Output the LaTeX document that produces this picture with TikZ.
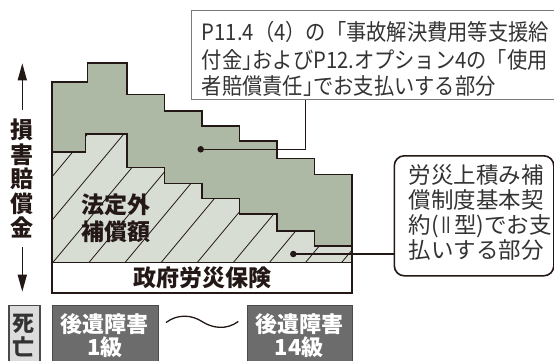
\documentclass[tikz,border=0pt]{standalone}
\usepackage{fontspec}
\usepackage{graphicx}
\setmainfont{Noto Sans CJK JP}
\newfontfamily\jp{Noto Sans CJK JP}
\newfontfamily\jpn[FakeStretch=0.9]{Noto Sans CJK JP}
\newcommand\hw[1]{{\addfontfeature{RawFeature=+halt}#1}}
\usetikzlibrary{arrows.meta}
\definecolor{grn}{HTML}{ADB9A5}
\definecolor{hat}{HTML}{D8DDD3}
\definecolor{ink}{HTML}{231815}
\definecolor{txt}{HTML}{333333}
\definecolor{dbox}{HTML}{6C6C6C}
\definecolor{dboxline}{HTML}{4A4A4A}
\definecolor{lbox}{HTML}{DCDCDC}
\definecolor{gline}{HTML}{7A7A7A}
\def\hatchpath{(52,262.3) -- (52,151.7) -- (85.5,151.7) -- (85.5,134) -- (127,134) -- (127,167.3) -- (164.5,167.3) -- (164.5,183.3) -- (202,183.3) -- (202,198.3) -- (239.5,198.3) -- (239.5,213.7) -- (277,213.7) -- (277,231) -- (314.5,231) -- (314.5,245.7) -- (352,245.7) -- (352,262.3) -- cycle}
\begin{document}
\begin{tikzpicture}[x=1pt,y=-1pt,
  outl/.style={draw=ink, line width=1.6pt, line join=miter},
  boldtxt/.style={font=\jp\bfseries\fontsize{23}{23}\selectfont, text=ink, inner sep=0pt, anchor=base},
  boxtxt/.style={font=\jp\bfseries\fontsize{22}{22}\selectfont, text=white, inner sep=0pt, anchor=base},
  callA/.style={font=\jpn\fontsize{22.5}{22.5}\selectfont, text=txt, inner sep=0pt, anchor=base west},
  callB/.style={font=\jp\fontsize{22.5}{22.5}\selectfont, text=txt, inner sep=0pt, anchor=base west},
  conn/.style={draw=ink, line width=1.3pt},
  dotst/.style={circle, fill=ink, inner sep=0pt, minimum size=6.5pt},
  axarr/.style={draw=ink, line width=1.5pt, -{Triangle[length=17pt,width=9pt]}},
  darkbox/.style={draw=dboxline, line width=1.2pt, fill=dbox, inner sep=0pt, anchor=north west, minimum height=62pt},
]
\useasboundingbox (0,0) rectangle (554,360);
\clip (0,0) rectangle (554,360);

% green area
\path[fill=grn, outl] (52,292.7) -- (52,81.7) -- (87.5,81.7) -- (87.5,62.7) -- (127,62.7) -- (127,94.3) -- (164.5,94.3) -- (164.5,111) -- (202,111) -- (202,125.7) -- (239.5,125.7) -- (239.5,141) -- (277,141) -- (277,158.3) -- (314.5,158.3) -- (314.5,174.3) -- (352,174.3) -- (352,292.7) -- cycle;

% hatched area
\path[fill=hat] \hatchpath;
\begin{scope}
  \clip \hatchpath;
  \foreach \k in {-6,...,12}
    \draw[ink, line width=0.8pt] ({53+36.1*\k},262.3) -- ({53+36.1*\k+180},46.3);
\end{scope}
\path[outl] \hatchpath;

% white band
\path[fill=white, outl] (52,262.3) rectangle (352,292.7);
\node[boldtxt] (band) at (202,286.7) {政府労災保険};

% hatched label
\node[boldtxt] (h1) at (116,213.7) {法定外};
\node[boldtxt] (h2) at (116,240.7) {補償額};

% callout 1
\node[draw=gline, line width=1.3pt, fill=white, minimum width=365pt, minimum height=89pt, anchor=north west, inner sep=0pt] (b1) at (191,10) {};
\node[callA] (t11) at (201.7,40.5) {P11.4（4）の「事故解決費用等支援給};
\node[callA] (t12) at (201.7,68) {付金\hw{」}およびP12.オプション4の「使用};
\node[callA] (t13) at (201.7,94.5) {者賠償責任\hw{」}でお支払いする部分};
\node[dotst] (d1) at (200.7,149.3) {};
\coordinate (k1) at (305.5,149.3);
\draw[conn] (d1.center) -- (k1) -- (k1 |- b1.south);

% callout 2
\node[draw=ink, line width=1.6pt, rounded corners=10pt, fill=white, minimum width=159.5pt, minimum height=120pt, anchor=north west, inner sep=0pt] (b2) at (393.5,155) {};
\node[callB] (t21) at (408.3,183.6) {労災上積み補};
\node[callB] (t22) at (408.3,208.6) {償制度基本契};
\node[callB] (t23) at (408.3,233.6) {約(\scalebox{0.7}[1]{Ⅱ}型)でお支};
\node[callB] (t24) at (408.3,258.6) {払いする部分};
\node[dotst] (d2) at (293.3,254) {};
\draw[conn] (d2.center) -- (d2.center -| b2.west);

% vertical axis
\node[boldtxt] (a1) at (22.3,138.7) {損};
\node[boldtxt] (a2) at (22.3,163.2) {害};
\node[boldtxt] (a3) at (22.3,187.7) {賠};
\node[boldtxt] (a4) at (22.3,212.2) {償};
\node[boldtxt] (a5) at (22.3,236.7) {金};
\coordinate (up0) at (22.3,110);
\coordinate (up1) at (22.3,63.3);
\coordinate (dn0) at (22.3,246.7);
\coordinate (dn1) at (22.3,291.7);
\draw[axarr] (up0) -- (up1);
\draw[axarr] (dn0) -- (dn1);

% bottom row
\node[draw=dboxline, line width=1.2pt, fill=lbox, inner sep=0pt, anchor=north west, minimum width=31pt, minimum height=62pt] (death) at (8.3,305) {};
\node[font=\jp\bfseries\fontsize{22}{22}\selectfont, text=txt, inner sep=0pt, anchor=base] (de1) at (23.8,331.4) {死};
\node[font=\jp\bfseries\fontsize{22}{22}\selectfont, text=txt, inner sep=0pt, anchor=base] (de2) at (23.8,355.4) {亡};

\node[darkbox, minimum width=106pt] (g1) at (51.7,305) {};
\node[boxtxt] (g1a) at (104.7,332.4) {後遺障害};
\node[boxtxt] (g1b) at (104.7,355.4) {1級};

\node[darkbox, minimum width=105.3pt] (g14) at (246.7,305) {};
\node[boxtxt] (g14a) at (299.3,332.4) {後遺障害};
\node[boxtxt] (g14b) at (299.3,355.4) {14級};

\coordinate (w0) at (166,322.5);
\coordinate (w1) at (202,321.5);
\coordinate (w2) at (238.3,321.5);
\draw[ink, line width=1.3pt] (w0) .. controls (178,313.5) and (192,315) .. (w1) .. controls (212,328) and (226,330.5) .. (w2);
\end{tikzpicture}
\end{document}
